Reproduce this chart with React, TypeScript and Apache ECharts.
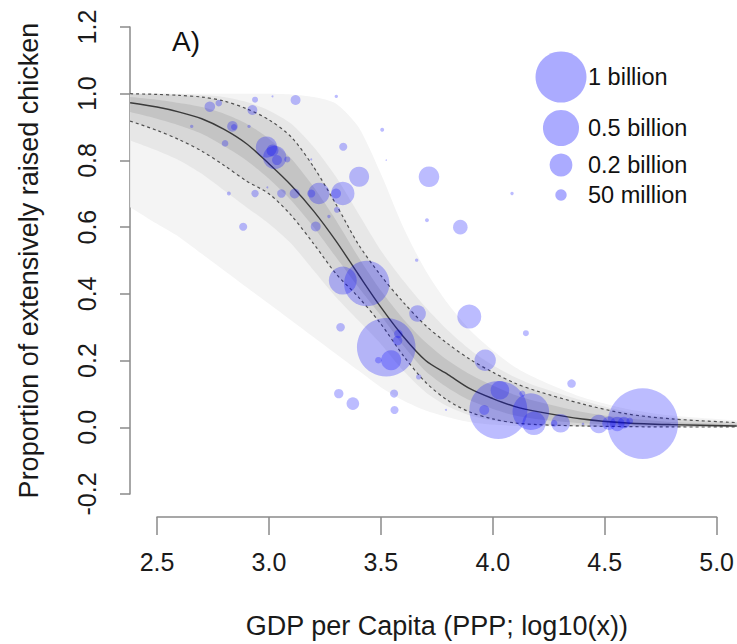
import React, { useEffect, useRef } from "react";
import * as echarts from "echarts";

// ---- bubble data (log10 GDP per capita, proportion, population in millions)
const gdp = [2.491,2.655,2.736,2.776,2.938,2.926,2.837,2.844,2.911,2.804,2.821,2.938,2.989,3.016,3.026,3.036,3.082,3.189,3.332,3.403,3.330,3.300,3.223,3.189,3.115,3.056,3.304,3.268,3.209,2.885,2.993,3.016,3.119,3.301,3.506,3.524,3.715,4.086,3.706,3.855,3.660,3.330,3.437,3.664,3.895,4.148,3.320,3.524,3.578,3.575,3.546,3.489,3.669,3.966,3.312,3.375,3.559,3.561,3.791,4.025,4.032,3.962,4.132,4.170,4.184,4.303,4.274,4.352,4.474,4.519,4.556,4.586,4.612,4.403,4.670];
const prop = [0.902,0.902,0.961,0.972,0.982,0.951,0.902,0.900,0.902,0.851,0.701,0.701,0.840,0.830,0.809,0.801,0.803,0.803,0.841,0.751,0.701,0.701,0.701,0.701,0.701,0.701,0.652,0.632,0.602,0.601,0.719,0.992,0.981,0.992,0.892,0.801,0.751,0.701,0.621,0.600,0.501,0.440,0.431,0.341,0.332,0.282,0.300,0.240,0.280,0.260,0.201,0.201,0.151,0.201,0.101,0.071,0.101,0.052,0.052,0.052,0.111,0.052,0.101,0.047,0.012,0.012,0.012,0.131,0.010,0.012,0.010,0.014,0.019,0.010,0.011];
const pop = [21,4.4,43,17,14,38,43,14,4.4,17,6,21,176,55,210,38,14,1.5,25,154,210,38,176,25,38,28,14,4.4,38,25,1.5,1.5,38,4.4,6,0.8,163,4.4,6,82,4.4,301,792,106,221,14,28,1320,28,34,154,17,11,176,34,61,25,25,1.5,1293,133,38,14,515,210,133,17,28,133,69,82,55,17,2.6,1916];

// ---- fitted curves
const curveX = [2.38,2.5,2.6,2.7,2.8,2.9,3.0,3.1,3.2,3.3,3.4,3.5,3.6,3.7,3.8,3.9,4.0,4.1,4.2,4.4,4.6,4.8,5.09];
const median = [0.973,0.960,0.945,0.925,0.893,0.850,0.790,0.725,0.648,0.558,0.458,0.360,0.272,0.200,0.158,0.115,0.086,0.062,0.047,0.025,0.013,0.008,0.004];
const upperCI = [1.0,0.998,0.995,0.99,0.978,0.955,0.922,0.87,0.78,0.668,0.548,0.455,0.375,0.305,0.25,0.203,0.165,0.132,0.108,0.07,0.04,0.025,0.014];
const lowerCI = [0.918,0.89,0.862,0.828,0.785,0.738,0.70,0.635,0.55,0.46,0.39,0.31,0.215,0.135,0.08,0.045,0.025,0.013,0.008,0.004,0.002,0.001,0.001];
// density bands of the bootstrap curves
const envUpper = [1.0,1.0,1.0,1.0,1.0,1.0,1.0,0.998,0.99,0.97,0.9,0.76,0.6,0.47,0.37,0.29,0.23,0.18,0.145,0.09,0.055,0.035,0.02];
const envLower = [0.66,0.61,0.57,0.52,0.47,0.42,0.37,0.32,0.27,0.22,0.17,0.12,0.08,0.05,0.03,0.015,0.008,0.004,0.002,0.001,0,0,0];
const midUpper = [1.0,1.0,0.999,0.996,0.99,0.975,0.95,0.91,0.84,0.75,0.64,0.53,0.44,0.36,0.29,0.232,0.186,0.15,0.122,0.08,0.046,0.029,0.016];
const midLower = [0.86,0.83,0.80,0.76,0.71,0.66,0.61,0.55,0.47,0.39,0.32,0.25,0.17,0.105,0.062,0.035,0.02,0.01,0.006,0.003,0.001,0.0005,0.0005];
const coreUpper = [0.99,0.982,0.972,0.96,0.94,0.91,0.865,0.805,0.72,0.62,0.51,0.41,0.325,0.255,0.2,0.158,0.125,0.097,0.077,0.046,0.027,0.016,0.009];
const coreLower = [0.945,0.925,0.905,0.88,0.843,0.80,0.745,0.68,0.6,0.51,0.42,0.335,0.245,0.168,0.118,0.08,0.055,0.035,0.024,0.012,0.006,0.003,0.002];

// ---- legend
const legendPops = [1000, 500, 200, 50];
const legendLabels = ["1 billion", "0.5 billion", "0.2 billion", "50 million"];

const xTitle = "GDP per Capita (PPP; log10(x))";
const yTitle = "Proportion of extensively raised chicken";
const panelLabel = "A)";

const FONT = "'Liberation Sans', Arial, Helvetica, sans-serif";
const BUBBLE = "rgba(0,0,255,0.33)";
const AXIS = "#8a8a8a";
const sizeOf = (p: number) => 51 * Math.sqrt(p / 1000);

function band(upper: number[], lower: number[], color: string) {
  return {
    type: "custom",
    clip: false,
    silent: true,
    data: [[curveX[0], upper[0]]],
    encode: { x: 0, y: 1 },
    renderItem: (_p: any, api: any) => {
      const up = curveX.map((x, i) => api.coord([x, upper[i]]));
      const lo = curveX.map((x, i) => api.coord([x, lower[i]])).reverse();
      // repeat the end vertices so that the smoothing keeps sharp corners there
      const pts = [up[0], ...up, up[up.length - 1], lo[0], ...lo, lo[lo.length - 1]];
      return { type: "polygon", shape: { points: pts, smooth: 0.25 }, style: { fill: color } };
    },
  };
}

function curve(vals: number[], color: string, width: number, dashed: boolean) {
  return {
    type: "custom",
    clip: false,
    silent: true,
    data: [[curveX[0], vals[0]]],
    encode: { x: 0, y: 1 },
    renderItem: (_p: any, api: any) => {
      const pts = curveX.map((x, i) => api.coord([x, vals[i]]));
      return {
        type: "polyline",
        shape: { points: pts, smooth: 0.3 },
        style: { stroke: color, lineWidth: width, fill: "none", lineDash: dashed ? [3, 3] : null },
      };
    },
  };
}

export default function App() {
  const ref = useRef<HTMLDivElement>(null);
  useEffect(() => {
    if (!ref.current) return;
    const chart = echarts.init(ref.current, undefined, { renderer: "svg" });
    const legendY = [77, 128, 165, 195];
    const graphics: any[] = [];
    legendPops.forEach((p, i) => {
      graphics.push({ type: "circle", shape: { cx: 561, cy: legendY[i], r: sizeOf(p) / 2 }, style: { fill: BUBBLE } });
      graphics.push({
        type: "text", x: 588, y: legendY[i],
        style: { text: legendLabels[i], font: `23.5px ${FONT}`, fill: "#111", textVerticalAlign: "middle", textAlign: "left" },
      });
    });
    graphics.push({ type: "text", x: 172, y: 41, style: { text: panelLabel, font: `28px ${FONT}`, fill: "#111", textVerticalAlign: "middle" } });

    chart.setOption({
      animation: false,
      backgroundColor: "#fff",
      grid: { left: 157, right: 19, top: 27, bottom: 146 },
      xAxis: {
        type: "value", min: 2.5, max: 5.0, interval: 0.5, offset: 23,
        axisLine: { show: true, onZero: false, lineStyle: { color: AXIS, width: 1.5 } },
        axisTick: { show: true, length: 18, lineStyle: { color: AXIS, width: 1.5 } },
        axisLabel: { formatter: (v: number) => v.toFixed(1), fontSize: 25, fontFamily: FONT, color: "#1a1a1a", margin: 32 },
        splitLine: { show: false },
        name: xTitle, nameLocation: "middle", nameGap: 95,
        nameTextStyle: { fontSize: 27, fontFamily: FONT, color: "#1a1a1a" },
      },
      yAxis: {
        type: "value", min: -0.2, max: 1.2, interval: 0.2, offset: 27,
        axisLine: { show: true, onZero: false, lineStyle: { color: AXIS, width: 1.5 } },
        axisTick: { show: true, length: 10, lineStyle: { color: AXIS, width: 1.5 } },
        axisLabel: {
          rotate: 90, fontSize: 25, fontFamily: FONT, color: "#1a1a1a", margin: 31,
          formatter: (v: number) => (Math.abs(v) < 1e-9 ? "0.0" : v.toFixed(1)),
        },
        splitLine: { show: false },
        name: yTitle, nameLocation: "middle", nameGap: 88, nameRotate: 90,
        nameTextStyle: { fontSize: 27, fontFamily: FONT, color: "#1a1a1a" },
      },
      series: [
        band(envUpper, envLower, "#f4f4f4"),
        band(midUpper, midLower, "#e7e7e7"),
        band(upperCI, lowerCI, "#d7d7d7"),
        band(coreUpper, coreLower, "#c4c4c4"),
        curve(upperCI, "#505050", 1.2, true),
        curve(lowerCI, "#505050", 1.2, true),
        curve(median, "#3a3a3a", 1.4, false),
        {
          type: "scatter",
          data: gdp.map((x, i) => [x, prop[i], pop[i]]),
          symbolSize: (v: number[]) => sizeOf(v[2]),
          itemStyle: { color: BUBBLE, borderWidth: 0 },
          silent: true,
        },
      ],
      graphic: graphics,
    });
    return () => chart.dispose();
  }, []);
  return <div ref={ref} style={{ position: "absolute", left: 0, top: 0, width: 737, height: 644 }} />;
}
